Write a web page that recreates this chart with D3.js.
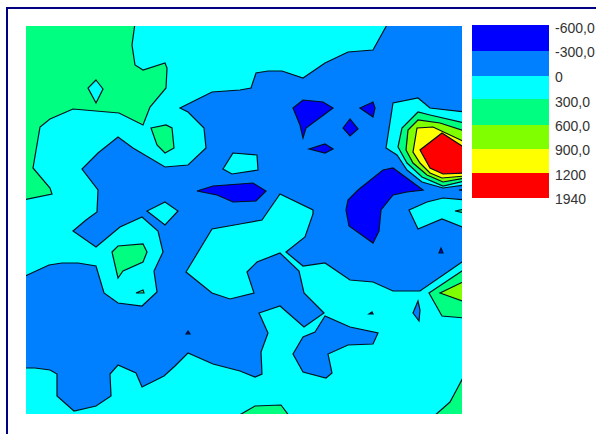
<!DOCTYPE html>
<html>
<head>
<meta charset="utf-8">
<script src="https://d3js.org/d3.v7.min.js"></script>
<style>
html,body{margin:0;padding:0;background:#fff;overflow:hidden}
svg{display:block}
</style>
</head>
<body>
<div id="chart"></div>
<script>
// Legend
const legendLabels = ["-600,0","-300,0","0","300,0","600,0","900,0","1200","1940"];
const bandColors = ["#0000ff","#0080ff","#00ffff","#00ff80","#80ff00","#ffff00","#ff0000"];

// Contour bands: rings of [x, y] in map units (map extent 436 x 388, y increasing southward)
const extentX = [0,436];
const extentY = [0,388];

const bandBase = [
  [[0,0],[436,0],[436,388],[0,388]]
];
const bandZeroTo300 = [
  [[0,0],[362,0],[347,24],[322,26],[299,37],[277,52],[256,45],[242,45],[230,47],[225,62],[214,64],[186,66],[154,82],[162,86],[178,102],[180,122],[162,139],[139,141],[107,122],[92,111],[72,127],[56,143],[72,164],[71,186],[60,194],[47,205],[70,221],[94,201],[116,191],[132,205],[137,226],[128,245],[131,266],[116,280],[92,277],[78,267],[70,240],[52,237],[36,237],[23,239],[0,251]],
  [[139,176],[152,185],[139,199],[121,185]],
  [[207,127],[231,129],[232,144],[206,148],[197,143]],
  [[236,194],[254,168],[287,184],[287,188],[279,211],[260,226],[277,240],[299,237],[324,254],[347,256],[367,265],[394,265],[436,234],[436,388],[0,388],[0,342],[9,342],[24,344],[31,348],[31,370],[48,385],[70,380],[85,370],[84,348],[92,339],[110,347],[116,361],[138,350],[149,340],[162,327],[187,338],[214,345],[229,351],[236,348],[235,326],[242,307],[233,287],[254,280],[278,301],[298,287],[278,267],[273,245],[254,227],[231,236],[221,246],[228,267],[204,273],[186,267],[160,246],[186,203],[214,198]],
  [[360,122],[367,77],[392,72],[404,82],[436,86],[436,159],[417,162],[396,156],[381,144],[371,129]],
  [[383,184],[401,176],[417,172],[436,174],[436,202],[416,193],[392,203]]
];
const bandIslands = [
  [[299,290],[289,306],[277,311],[267,328],[277,346],[300,352],[306,347],[302,328],[322,319],[347,318],[352,307],[324,301]],
  [[392,275],[387,287],[393,295],[394,284]]
];
const band300To600 = [
  [[0,0],[109,0],[106,19],[109,39],[117,44],[139,37],[141,42],[140,62],[124,81],[117,99],[93,87],[47,83],[24,93],[14,101],[7,142],[24,162],[26,168],[0,174]],
  [[125,102],[140,99],[146,102],[148,122],[139,127],[131,119]],
  [[86,226],[92,220],[117,218],[121,226],[117,236],[97,245],[92,252]],
  [[110,267],[117,264],[118,267]],
  [[392,86],[376,102],[372,121],[381,137],[396,151],[417,160],[436,155],[436,97],[404,89]],
  [[403,267],[436,243],[436,292],[416,290]],
  [[210,388],[229,380],[255,379],[264,388]],
  [[407,388],[424,376],[431,363],[436,348],[436,388]],
  [[429,185],[436,183],[436,187]]
];
const bandHoles = [
  [[70,54],[77,63],[70,77],[62,62]]
];
const band600To900 = [
  [[392,94],[382,104],[380,124],[387,137],[401,149],[417,156],[436,152],[436,105],[414,97]],
  [[414,267],[436,255],[436,276]]
];
const band900To1200 = [
  [[391,102],[387,126],[394,137],[404,147],[416,152],[436,150],[436,116],[407,101]]
];
const band1200To1940 = [
  [[416,107],[394,124],[404,142],[417,148],[436,147],[436,122]]
];
const bandBelowMinus300 = [
  [[267,82],[277,74],[297,76],[307,82],[280,102],[277,112],[274,99]],
  [[334,82],[347,76],[349,82],[347,91]],
  [[317,102],[324,93],[332,103],[324,110]],
  [[283,123],[299,118],[307,123],[299,127]],
  [[397,164],[367,142],[357,144],[332,164],[322,174],[320,184],[323,200],[347,217],[353,205],[355,184],[367,169],[381,166]],
  [[171,165],[187,160],[214,158],[227,157],[240,165],[230,175],[207,176],[191,169]],
  [[160,308],[162,305],[164,308]],
  [[415,222],[417,227],[413,227]],
  [[343,288],[346,286],[347,288]],
  [[433,164],[436,163],[436,165]]
];

const layers = [
  {rings: bandBase, band: 1},
  {rings: bandZeroTo300, band: 2},
  {rings: bandIslands, band: 1},
  {rings: band300To600, band: 3},
  {rings: bandHoles, band: 2},
  {rings: band600To900, band: 4},
  {rings: band900To1200, band: 5},
  {rings: band1200To1940, band: 6},
  {rings: bandBelowMinus300, band: 0}
];

const W = 596, H = 434;
const plot = {left: 26, top: 26, right: 462, bottom: 414};
const legendEdges = [25, 51, 76, 99, 125, 149, 173, 198];
const legendBaselines = [33, 57, 82, 107, 131, 155, 180, 204];
const legendBox = {left: 472, right: 549, textX: 555};

const svg = d3.select("#chart").append("svg").attr("width", W).attr("height", H);
svg.append("rect").attr("width", W).attr("height", H).attr("fill", "#fff");

// Window frame
svg.append("path")
  .attr("d", d3.line()([[7,H],[7,8],[W,8]]))
  .attr("fill", "none").attr("stroke", "#000080").attr("stroke-width", 2)
  .attr("shape-rendering", "crispEdges");

const x = d3.scaleLinear().domain(extentX).range([plot.left, plot.right]);
const y = d3.scaleLinear().domain(extentY).range([plot.top, plot.bottom]);
// Rings touching the map edge are pushed just past the clip so no outline shows along the edge.
const bleed = 3;
const edge = (scale, v, ext) => scale(v) + (v <= ext[0] ? -bleed : v >= ext[1] ? bleed : 0);
const ring = d3.line()
  .x(d => edge(x, d[0], extentX))
  .y(d => edge(y, d[1], extentY))
  .curve(d3.curveLinearClosed);

svg.append("defs").append("clipPath").attr("id", "plotClip")
  .append("rect").attr("x", plot.left).attr("y", plot.top)
  .attr("width", plot.right - plot.left).attr("height", plot.bottom - plot.top);

const map = svg.append("g").attr("clip-path", "url(#plotClip)");
layers.forEach((layer, i) => {
  map.append("g").selectAll("path").data(layer.rings).join("path")
    .attr("d", ring)
    .attr("fill", bandColors[layer.band])
    .attr("stroke", i === 0 ? "none" : "#00101c")
    .attr("stroke-width", 1.2)
    .attr("stroke-linejoin", "miter");
});

// Legend
svg.append("g").selectAll("rect").data(bandColors).join("rect")
  .attr("x", legendBox.left)
  .attr("y", (d, i) => legendEdges[i])
  .attr("width", legendBox.right - legendBox.left)
  .attr("height", (d, i) => legendEdges[i + 1] - legendEdges[i])
  .attr("fill", d => d);
svg.append("g").selectAll("text").data(legendLabels).join("text")
  .attr("x", legendBox.textX)
  .attr("y", (d, i) => legendBaselines[i])
  .attr("font-family", "'Liberation Sans', Arial, sans-serif")
  .attr("font-size", 14)
  .attr("fill", "#333")
  .text(d => d);
</script>
</body>
</html>
